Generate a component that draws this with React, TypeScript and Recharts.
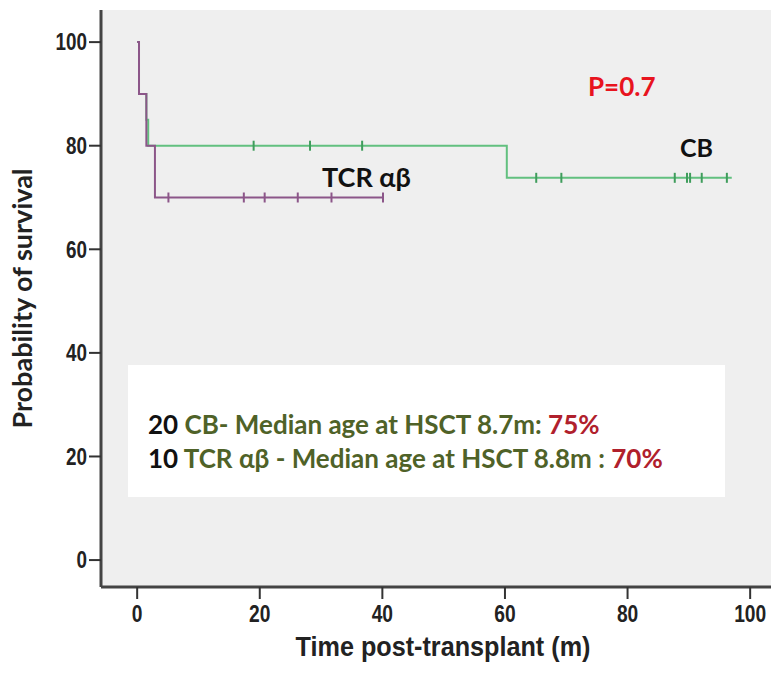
import {
  ComposedChart,
  Line,
  Scatter,
  XAxis,
  YAxis,
  CartesianGrid,
} from 'recharts'

// Kaplan-Meier steps (months, % surviving)
const cbTimes = [0, 0.3, 1.5, 1.8, 60.3, 97]
const cbSurvival = [100, 90, 85, 80, 73.8, 73.8]
const tcrTimes = [0, 0.3, 1.5, 2.9, 40.1]
const tcrSurvival = [100, 90, 80, 70, 70]

// censored patients (tick marks)
const cbCensorTimes = [19, 28.2, 36.7, 65.1, 69.2, 87.7, 89.7, 90.2, 92.1, 96.2]
const cbCensorSurvival = [80, 80, 80, 73.8, 73.8, 73.8, 73.8, 73.8, 73.8, 73.8]
const tcrCensorTimes = [5.1, 17.4, 20.8, 26.2, 31.7, 40.1]
const tcrCensorSurvival = [70, 70, 70, 70, 70, 70]

const xTicks = [0, 20, 40, 60, 80, 100]
const yTicks = [0, 20, 40, 60, 80, 100]

const GREEN = '#62c07f'
const GREEN_DARK = '#3f9d5c'
const PURPLE = '#8c5689'

const sans = "'Liberation Sans', Arial, sans-serif"
const humanist = "Lato, 'Open Sans', sans-serif"

const zip = (t: number[], s: number[]) => t.map((v, i) => ({ t: v, s: s[i] }))

const cbCurve = zip(cbTimes, cbSurvival)
const tcrCurve = zip(tcrTimes, tcrSurvival)
const cbCensor = zip(cbCensorTimes, cbCensorSurvival)
const tcrCensor = zip(tcrCensorTimes, tcrCensorSurvival)

function CensorMark(color: string) {
  return (props: any) => {
    const { cx, cy } = props
    if (cx == null || cy == null) return null
    return (
      <line x1={cx} x2={cx} y1={cy - 5} y2={cy + 5} stroke={color} strokeWidth={2} />
    )
  }
}

// SPSS uses a narrow bold face for the axes; squeeze Liberation Sans a bit
function XTick(props: any) {
  const { x, y, payload } = props
  return (
    <g transform={`translate(${x},${y + 4})`}>
      <text
        transform="scale(0.8,1)"
        textAnchor="middle"
        dy="0.72em"
        fill="#222"
        fontSize={24}
        fontWeight={700}
        fontFamily={sans}
      >
        {payload.value}
      </text>
    </g>
  )
}

function YTick(props: any) {
  const { x, y, payload } = props
  return (
    <g transform={`translate(${x},${y})`}>
      <text
        transform="scale(0.82,1)"
        textAnchor="end"
        dy="0.36em"
        fill="#222"
        fontSize={23}
        fontWeight={700}
        fontFamily={sans}
      >
        {payload.value}
      </text>
    </g>
  )
}

function XTitle(props: any) {
  const { viewBox } = props
  const cx = viewBox.x + viewBox.width / 2 + 7
  const y = viewBox.y + 69
  return (
    <g transform={`translate(${cx},${y})`}>
      <text
        transform="scale(0.9,1)"
        textAnchor="middle"
        fill="#222"
        fontSize={28}
        fontWeight={700}
        fontFamily={sans}
      >
        Time post-transplant (m)
      </text>
    </g>
  )
}

export default function App() {
  return (
    <div
      style={{
        position: 'absolute',
        left: 0,
        top: 0,
        width: 771,
        height: 674,
        background: '#fff',
      }}
    >
      <ComposedChart
        width={771}
        height={674}
        margin={{ top: 10, right: 0, bottom: 0, left: 0 }}
      >
        <CartesianGrid horizontal={false} vertical={false} fill="#efefef" />
        <XAxis
          xAxisId="frame"
          orientation="top"
          type="number"
          domain={[-5.9, 103.4]}
          height={0}
          tick={false}
          tickLine={false}
          axisLine={{ stroke: '#8a8a8a', strokeWidth: 2 }}
        />
        <XAxis
          type="number"
          dataKey="t"
          domain={[-5.9, 103.4]}
          ticks={xTicks}
          allowDataOverflow
          height={87}
          tickSize={12}
          axisLine={{ stroke: '#444', strokeWidth: 3 }}
          tickLine={{ stroke: '#333', strokeWidth: 2 }}
          tick={<XTick />}
          label={<XTitle />}
        />
        <YAxis
          type="number"
          dataKey="s"
          domain={[-5.2, 106.2]}
          ticks={yTicks}
          allowDataOverflow
          width={101}
          tickSize={12}
          axisLine={{ stroke: '#444', strokeWidth: 3 }}
          tickLine={{ stroke: '#333', strokeWidth: 2 }}
          tick={<YTick />}
          label={{
            value: 'Probability of survival',
            angle: -90,
            position: 'insideLeft',
            offset: 22,
            style: {
              fill: '#222',
              fontSize: 27,
              fontWeight: 700,
              fontFamily: humanist,
              textAnchor: 'middle',
            },
          }}
        />
        <Line
          data={cbCurve}
          dataKey="s"
          type="stepAfter"
          stroke={GREEN}
          strokeWidth={2}
          dot={false}
          isAnimationActive={false}
        />
        <Line
          data={tcrCurve}
          dataKey="s"
          type="stepAfter"
          stroke={PURPLE}
          strokeWidth={2}
          dot={false}
          isAnimationActive={false}
        />
        <Scatter
          data={cbCensor}
          dataKey="s"
          shape={CensorMark(GREEN_DARK)}
          isAnimationActive={false}
        />
        <Scatter
          data={tcrCensor}
          dataKey="s"
          shape={CensorMark(PURPLE)}
          isAnimationActive={false}
        />
      </ComposedChart>

      <div
        style={{
          position: 'absolute',
          left: 588,
          top: 70,
          color: '#e8141e',
          fontFamily: humanist,
          fontWeight: 700,
          fontSize: 26,
          lineHeight: '32px',
        }}
      >
        P=0.7
      </div>
      <div
        style={{
          position: 'absolute',
          left: 680,
          top: 131,
          color: '#111',
          fontFamily: humanist,
          fontWeight: 700,
          fontSize: 25,
          lineHeight: '32px',
        }}
      >
        CB
      </div>
      <div
        style={{
          position: 'absolute',
          left: 322,
          top: 161,
          color: '#111',
          fontFamily: humanist,
          fontWeight: 700,
          fontSize: 27,
          lineHeight: '32px',
        }}
      >
        TCR αβ
      </div>

      <div
        style={{
          position: 'absolute',
          left: 128,
          top: 365,
          width: 597,
          height: 132,
          background: '#fff',
          fontFamily: humanist,
          fontWeight: 700,
          fontSize: 26,
          lineHeight: '34px',
          boxSizing: 'border-box',
          paddingLeft: 20,
          paddingTop: 42,
          whiteSpace: 'nowrap',
        }}
      >
        <div>
          <span style={{ color: '#111' }}>20</span>
          <span style={{ color: '#4f6228' }}> CB- Median age at HSCT 8.7m: </span>
          <span style={{ color: '#b0202c' }}>75%</span>
        </div>
        <div>
          <span style={{ color: '#111' }}>10</span>
          <span style={{ color: '#4f6228' }}> TCR αβ - Median age at HSCT 8.8m : </span>
          <span style={{ color: '#b0202c' }}>70%</span>
        </div>
      </div>
    </div>
  )
}
